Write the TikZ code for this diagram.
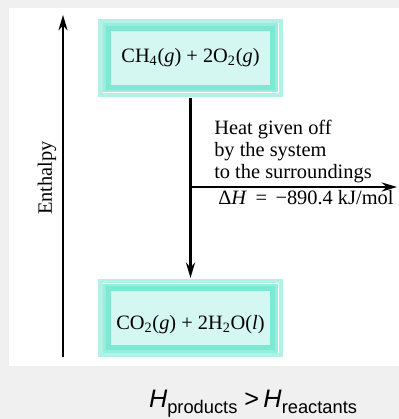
\documentclass[tikz,border=0pt]{standalone}
\usepackage{fontspec}
\setmainfont{Liberation Serif}
\setsansfont{Liberation Sans}
\usetikzlibrary{arrows.meta}
\definecolor{panelgray}{HTML}{F0F0F0}
\definecolor{boxglow}{HTML}{B2F2E6}
\definecolor{boxmid}{HTML}{98EEDC}
\definecolor{boxedge}{HTML}{7DE8D3}
\definecolor{boxfill}{HTML}{D4F8F1}
\tikzset{
  enbox/.style={minimum width=4.1cm, minimum height=1.475cm, inner sep=0pt, outer sep=7.5pt,
    fill=boxfill, draw=boxedge, line width=3.5pt,
    preaction={draw=boxglow, line width=14.2pt},
    preaction={draw=white, line width=8.5pt},
    preaction={draw=boxmid, line width=7.1pt},
    font=\fontsize{14.5}{15.6}\selectfont},
  txt/.style={inner sep=0pt, font=\fontsize{14.5}{15.6}\selectfont},
  flow/.style={line width=1.6pt, -{Stealth[length=11pt, width=6.5pt]}}
}

\begin{document}
\begin{tikzpicture}[x=0.025cm, y=-0.025cm]
    \fill[panelgray] (0,0) rectangle (399,419);
    \fill[white] (9,8) rectangle (399,366);
    \useasboundingbox (0,0) rectangle (399,419);
    \coordinate (axisbot) at (63,357);
    \coordinate (axistop) at (63,15);
    \coordinate (branch) at (191,187);
    \coordinate (heat) at (397,187);
    \node[enbox] (react) at (190.5,58) {CH\textsubscript{4}(\textit{g}) + 2O\textsubscript{2}(\textit{g})};
    \node[enbox, text height=20pt, text depth=3.6pt] (prod) at (190.5,318) {CO\textsubscript{2}(\textit{g}) + 2H\textsubscript{2}O(\textit{l})};
    \draw[flow] (axisbot) -- (axistop);
    \draw[flow] (react) -- (prod);
    \draw[flow] (branch) -- (heat);
    \node[txt, rotate=90] (enth) at (47,178) {Enthalpy};
    \node[txt, align=left, anchor=south west] (note) at (214,183) {Heat given off\\by the system\\to the surroundings};
    \node[txt, anchor=base west] (dh) at (218,204) {Δ\textit{H}\,\ =\ \,−890.4 kJ/mol};
    \node[inner sep=0pt, anchor=base, font=\sffamily\fontsize{18}{20}\selectfont] (cmp) at (253,407)
        {\textit{H}\raisebox{-4.3pt}{\fontsize{13}{14}\selectfont products} >\,\textit{H}\raisebox{-4.3pt}{\fontsize{13}{14}\selectfont reactants}};
\end{tikzpicture}
\end{document}
